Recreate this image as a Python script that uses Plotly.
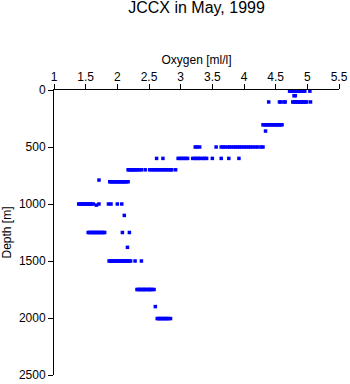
import plotly.graph_objects as go

# Oxygen readings [ml/l] grouped by sampling depth [m]
depth_levels = [10, 50, 105, 305, 360, 500, 600, 700, 790, 805, 1000, 1010, 1100,
                1250, 1380, 1500, 1750, 1900, 2005]

oxygen_by_level = [
    [4.72, 4.74, 4.76, 4.78, 4.80, 4.82, 4.84, 4.86, 4.88, 4.90, 4.93, 4.96, 5.04],
    [4.79, 4.81],
    [4.39, 4.56, 4.58, 4.63, 4.65, 4.77, 4.79, 4.81, 4.83, 4.85, 4.87, 4.89, 4.91,
     4.93, 4.95, 4.97, 4.99, 5.05],
    [4.30, 4.32, 4.34, 4.36, 4.38, 4.40, 4.42, 4.44, 4.46, 4.48, 4.50, 4.52, 4.54,
     4.56, 4.58, 4.60],
    [4.34],
    [3.23, 3.26, 3.30, 3.56, 3.64, 3.67, 3.70, 3.74, 3.77, 3.80, 3.84, 3.87, 3.90,
     3.93, 3.96, 4.00, 4.03, 4.07, 4.10, 4.14, 4.18, 4.22, 4.27, 4.30],
    [2.62, 2.72, 2.96, 2.99, 3.02, 3.05, 3.08, 3.11, 3.19, 3.22, 3.25, 3.28, 3.31,
     3.35, 3.38, 3.41, 3.50, 3.64, 3.76, 3.92],
    [2.17, 2.19, 2.21, 2.23, 2.25, 2.27, 2.29, 2.32, 2.35, 2.38, 2.44, 2.51, 2.54,
     2.57, 2.60, 2.63, 2.66, 2.69, 2.72, 2.75, 2.78, 2.81, 2.84, 2.86, 2.92],
    [1.71],
    [1.88, 1.90, 1.92, 1.94, 1.96, 1.98, 2.00, 2.02, 2.04, 2.06, 2.08, 2.10, 2.12,
     2.14, 2.17],
    [1.39, 1.41, 1.43, 1.45, 1.47, 1.49, 1.51, 1.53, 1.55, 1.57, 1.59, 1.62, 1.71,
     1.86, 1.90, 2.00, 2.07],
    [1.67],
    [2.11],
    [1.54, 1.56, 1.58, 1.60, 1.62, 1.64, 1.66, 1.68, 1.70, 1.72, 1.74, 1.76, 1.78,
     1.80, 2.08, 2.19],
    [2.16],
    [1.87, 1.89, 1.91, 1.93, 1.95, 1.97, 1.99, 2.01, 2.03, 2.05, 2.07, 2.09, 2.11,
     2.13, 2.15, 2.17, 2.19, 2.21, 2.28, 2.38],
    [2.31, 2.33, 2.35, 2.37, 2.39, 2.41, 2.43, 2.45, 2.47, 2.49, 2.51, 2.53, 2.55,
     2.58],
    [2.60],
    [2.63, 2.65, 2.67, 2.69, 2.71, 2.73, 2.75, 2.77, 2.79, 2.81, 2.84],
]

x_ticks = [1, 1.5, 2, 2.5, 3, 3.5, 4, 4.5, 5, 5.5]
x_tick_labels = ["1", "1.5", "2", "2.5", "3", "3.5", "4", "4.5", "5", "5.5"]
y_ticks = [0, 500, 1000, 1500, 2000, 2500]
y_tick_labels = ["0", "500", "1000", "1500", "2000", "2500"]

xs, ys = [], []
for d, vals in zip(depth_levels, oxygen_by_level):
    for v in vals:
        xs.append(v)
        ys.append(d)

FONT = "Liberation Sans, Arial, Helvetica, sans-serif"

fig = go.Figure(go.Scatter(
    x=xs, y=ys, mode="markers",
    marker=dict(symbol="square", size=3.5, color="#0000ff", line=dict(width=0)),
    hoverinfo="x+y",
))

fig.update_layout(
    width=350, height=384,
    margin=dict(l=54, r=11, t=90, b=9, autoexpand=False),
    paper_bgcolor="white", plot_bgcolor="white",
    showlegend=False,
    font=dict(family=FONT, size=12, color="black"),
    title=dict(text="JCCX in May, 1999", x=0.5, xref="paper", xanchor="center",
               y=1 - 7 / 384, yref="container", yanchor="middle",
               font=dict(family=FONT, size=16, color="black")),
    xaxis=dict(side="top", range=[1, 5.5], tickvals=x_ticks, ticktext=x_tick_labels,
               showline=True, linecolor="black", linewidth=1, ticks="outside",
               ticklen=5, tickcolor="black", showgrid=False, zeroline=False,
               automargin=False, tickfont=dict(family=FONT, size=12),
               ticklabelstandoff=-2,
               title=dict(text="Oxygen [ml/l]", standoff=3,
                          font=dict(family=FONT, size=12))),
    yaxis=dict(range=[2500, 0], tickvals=y_ticks, ticktext=y_tick_labels,
               showline=True, linecolor="black", linewidth=1, ticks="outside",
               ticklen=5, tickcolor="black", showgrid=False, zeroline=False,
               automargin=False, tickfont=dict(family=FONT, size=12),
               title=dict(text="Depth [m]", standoff=4,
                          font=dict(family=FONT, size=12))),
)

fig.write_html("out.html")
